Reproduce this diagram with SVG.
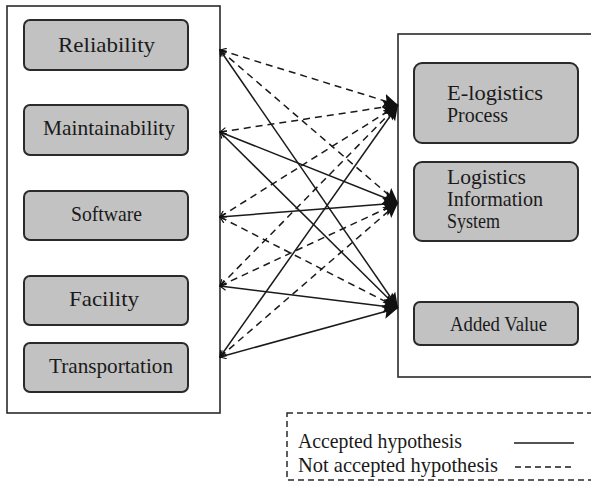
<svg xmlns="http://www.w3.org/2000/svg" width="591" height="486" viewBox="0 0 591 486">
<style>
.frame{fill:#fff;stroke:#2a2a2a;stroke-width:1.6}
.node rect{fill:#c2c2c2;stroke:#2a2a2a;stroke-width:2}
text{font-family:"Liberation Serif","DejaVu Serif",serif;font-size:21px;fill:#1a1a1a}
.c{stroke:#1a1a1a;stroke-width:1.5;fill:none;marker-start:url(#tail);marker-end:url(#head)}
.d{stroke-dasharray:7,5}
.legend{fill:none;stroke:#2a2a2a;stroke-width:1.5;stroke-dasharray:6,4}
</style>
<defs>
<marker id="head" markerUnits="userSpaceOnUse" markerWidth="18" markerHeight="16" refX="15" refY="7" orient="auto">
<path d="M0,0 L15,7 L0,14 L3,7 z" fill="#111"/>
</marker>
<marker id="tail" markerUnits="userSpaceOnUse" markerWidth="8" markerHeight="8" refX="1" refY="4" orient="auto">
<path d="M7,0.5 L1,4 L7,7.5" fill="none" stroke="#111" stroke-width="1.2"/>
</marker>
</defs>
<rect width="591" height="486" fill="#fff"/>
<rect class="frame" x="7" y="6" width="213" height="407"/>
<rect class="frame" x="398" y="34" width="200" height="343"/>

<g id="n-reliability" class="node"><rect x="24" y="20" width="164" height="50" rx="6"/><text x="58" y="52" textLength="97" lengthAdjust="spacingAndGlyphs">Reliability</text></g>
<g id="n-maintainability" class="node"><rect x="24" y="105" width="164" height="50" rx="6"/><text x="43" y="135" textLength="132" lengthAdjust="spacingAndGlyphs">Maintainability</text></g>
<g id="n-software" class="node"><rect x="24" y="191" width="164" height="49" rx="6"/><text x="71" y="221" textLength="71" lengthAdjust="spacingAndGlyphs">Software</text></g>
<g id="n-facility" class="node"><rect x="24" y="276" width="164" height="49" rx="6"/><text x="69" y="306" textLength="70" lengthAdjust="spacingAndGlyphs">Facility</text></g>
<g id="n-transportation" class="node"><rect x="24" y="343" width="164" height="49" rx="6"/><text x="49" y="373" textLength="124" lengthAdjust="spacingAndGlyphs">Transportation</text></g>

<g id="n-elogistics" class="node"><rect x="414" y="63" width="164" height="80" rx="8"/><text x="447" y="100" textLength="96" lengthAdjust="spacingAndGlyphs">E-logistics</text><text x="447" y="122" textLength="61" lengthAdjust="spacingAndGlyphs">Process</text></g>
<g id="n-lis" class="node"><rect x="414" y="162" width="164" height="79" rx="8"/><text x="447" y="184" textLength="79" lengthAdjust="spacingAndGlyphs">Logistics</text><text x="447" y="206" textLength="96" lengthAdjust="spacingAndGlyphs">Information</text><text x="447" y="228" textLength="53" lengthAdjust="spacingAndGlyphs">System</text></g>
<g id="n-addedvalue" class="node"><rect x="414" y="302" width="164" height="43" rx="6"/><text x="450" y="331" textLength="97" lengthAdjust="spacingAndGlyphs">Added Value</text></g>

<g id="connectors">
<path class="c d" d="M220,50 L398,105"/>
<path class="c d" d="M220,50 L398,203"/>
<path class="c" d="M220,50 L398,308"/>
<path class="c d" d="M220,132 L398,105"/>
<path class="c" d="M220,132 L398,203"/>
<path class="c" d="M220,132 L398,308"/>
<path class="c d" d="M220,217 L398,105"/>
<path class="c" d="M220,217 L398,203"/>
<path class="c d" d="M220,217 L398,308"/>
<path class="c d" d="M220,286 L398,105"/>
<path class="c d" d="M220,286 L398,203"/>
<path class="c" d="M220,286 L398,308"/>
<path class="c" d="M220,357 L398,105"/>
<path class="c d" d="M220,357 L398,203"/>
<path class="c" d="M220,357 L398,308"/>
</g>

<g id="legend">
<rect class="legend" x="287" y="413" width="310" height="67"/>
<text x="298" y="448" textLength="164" lengthAdjust="spacingAndGlyphs">Accepted hypothesis</text>
<text x="298" y="472" textLength="200" lengthAdjust="spacingAndGlyphs">Not accepted hypothesis</text>
<line x1="514" y1="443" x2="574" y2="443" stroke="#1a1a1a" stroke-width="1.6"/>
<line x1="515" y1="467" x2="574" y2="467" stroke="#1a1a1a" stroke-width="1.6" stroke-dasharray="6,4"/>
</g>
</svg>
